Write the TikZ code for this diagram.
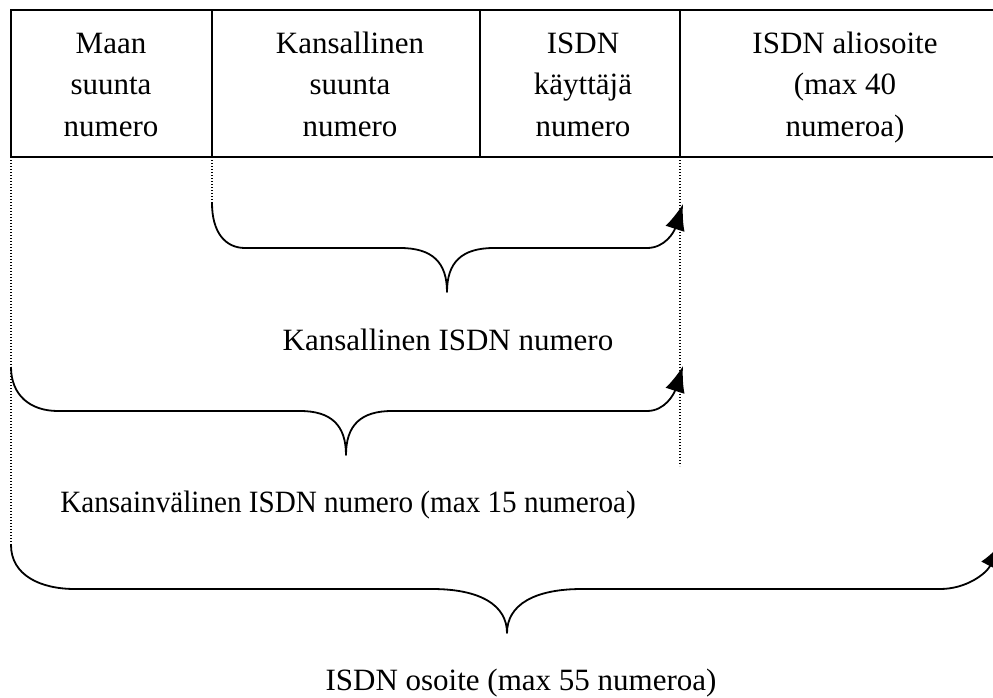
\documentclass[tikz,border=0pt]{standalone}
\usepackage{fontspec}
\setmainfont{Liberation Serif}
\usetikzlibrary{arrows.meta}
\begin{document}
\begin{tikzpicture}[x=1pt,y=-1pt,
  cell/.style={draw, line width=1.6pt, rectangle, inner sep=0pt, outer sep=0pt,
               anchor=north west, minimum height=147pt},
  celltext/.style={align=center, inner sep=0pt, font=\fontsize{31}{42}\selectfont},
  lbl/.style={anchor=base, inner sep=0pt, font=\fontsize{31}{37}\selectfont},
  guide/.style={line width=1.2pt, dash pattern=on 1.2pt off 1.8pt},
  brace/.style={line width=1.8pt, line join=round,
                -{Latex[length=26pt, width=20pt]}}]
\useasboundingbox (0,0) rectangle (993,698);
\clip (0,0) rectangle (993,698);

% address field table
\node[cell, minimum width=201pt] (c1) at (11,10) {};
\node[cell, minimum width=268pt] (c2) at (212,10) {};
\node[cell, minimum width=200pt] (c3) at (480,10) {};
\node[cell, minimum width=340pt] (c4) at (680,10) {};

\node[celltext] (t1) at (111,86.6) {\strut Maan\\suunta\\numero\strut};
\node[celltext] (t2) at (350,86.6) {\strut Kansallinen\\suunta\\numero\strut};
\node[celltext] (t3) at (583,86.6) {\strut ISDN\\käyttäjä\\numero\strut};
\node[celltext] (t4) at (845,86.6) {\strut ISDN aliosoite\\(max 40\\numeroa)\strut};

% brace end points
\coordinate (b1s) at (212,203);
\coordinate (b1t) at (683,204);
\coordinate (b2s) at (11,367);
\coordinate (b2t) at (683,366);
\coordinate (b3s) at (11,545);
\coordinate (b3t) at (1002,543);
\coordinate (g3e) at (680,466);

% dotted guide lines
\draw[guide] (c1.south west) -- (b3s);
\draw[guide] (c2.south west) -- (b1s);
\draw[guide] (c3.south east) -- (g3e);

% national ISDN number
\draw[brace] (b1s) .. controls (212,232) and (225,248) .. (245,248) -- (400,248)
  .. controls (432,248) and (447,262) .. (447,292)
  .. controls (447,262) and (462,248) .. (494,248) -- (647,248)
  .. controls (665,248) and (674,232) .. (b1t);
\node[lbl] (l1) at (448,350) {Kansallinen ISDN numero};

% international ISDN number
\draw[brace] (b2s) .. controls (11,395) and (30,411) .. (58,411) -- (300,411)
  .. controls (331,411) and (346,425) .. (346,455)
  .. controls (346,425) and (361,411) .. (392,411) -- (647,411)
  .. controls (665,411) and (674,394) .. (b2t);
\node[lbl] (l2) at (348,512) {\scalebox{0.94}[1]{Kansainvälinen ISDN numero (max 15 numeroa)}};

% ISDN address
\draw[brace] (b3s) .. controls (11,575) and (40,589) .. (75,589) -- (432,589)
  .. controls (480,589) and (507,605) .. (507,633)
  .. controls (507,605) and (534,589) .. (582,589) -- (940,589)
  .. controls (966,589) and (986,574) .. (b3t);
\node[lbl] (l3) at (521,690) {ISDN osoite (max 55 numeroa)};
\end{tikzpicture}
\end{document}
